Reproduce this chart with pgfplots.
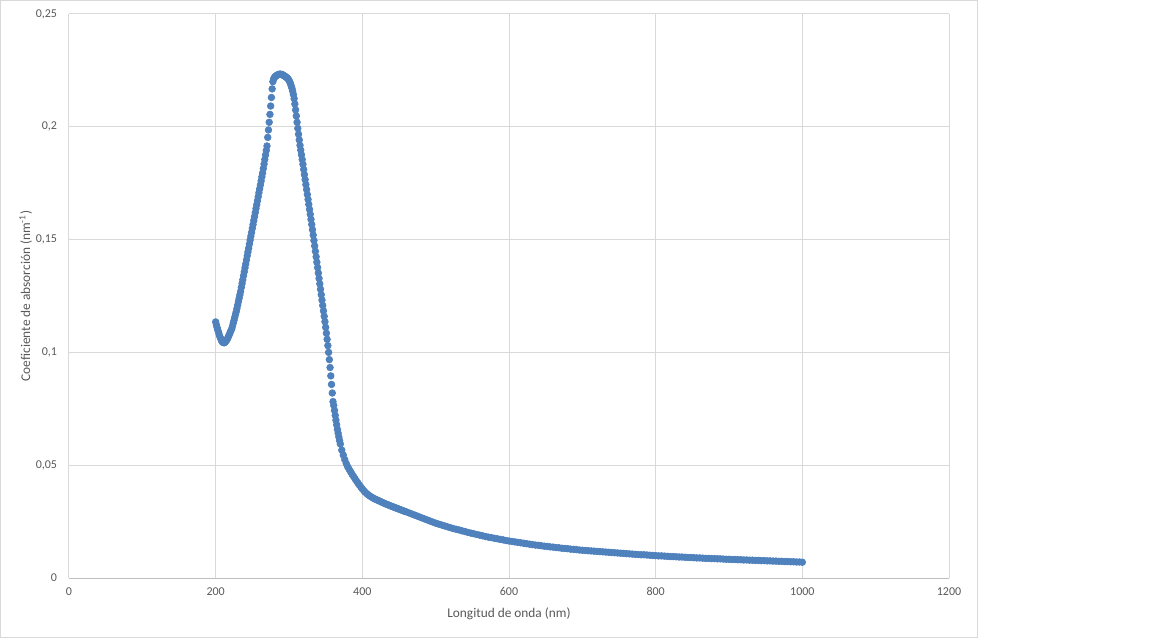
\documentclass[border=0pt]{standalone}
\usepackage{pgfplots}
\pgfplotsset{compat=1.18}
\usepackage{pgfplotstable}
\usepackage{fontspec}
\setmainfont{Carlito}
\definecolor{txt}{HTML}{595959}
\definecolor{gridc}{HTML}{D9D9D9}
\definecolor{axc}{HTML}{BFBFBF}
\definecolor{ser}{HTML}{4F81BD}
\pgfplotstableread{
x y
200 0.1135
201 0.1122
202 0.1110
203 0.1098
204 0.1088
205 0.1077
206 0.1068
207 0.1060
208 0.1052
209 0.1047
210 0.1044
211 0.1043
212 0.1043
213 0.1046
214 0.1050
215 0.1055
216 0.1060
217 0.1067
218 0.1075
219 0.1082
220 0.1090
221 0.1098
222 0.1105
223 0.1117
224 0.1130
225 0.1142
226 0.1155
227 0.1168
228 0.1180
229 0.1195
230 0.1210
231 0.1225
232 0.1240
233 0.1255
234 0.1270
235 0.1288
236 0.1305
237 0.1322
238 0.1340
239 0.1357
240 0.1375
241 0.1392
242 0.1410
243 0.1428
244 0.1445
245 0.1462
246 0.1480
247 0.1498
248 0.1515
249 0.1532
250 0.1550
251 0.1567
252 0.1585
253 0.1602
254 0.1620
255 0.1638
256 0.1655
257 0.1672
258 0.1690
259 0.1708
260 0.1725
261 0.1742
262 0.1760
263 0.1778
264 0.1795
265 0.1815
266 0.1835
267 0.1855
268 0.1875
269 0.1895
270 0.1915
271 0.1953
272 0.1986
273 0.2020
274 0.2055
275 0.2092
276 0.2130
277 0.2168
278 0.2200
279 0.2212
280 0.2218
281 0.2222
282 0.2225
283 0.2227
284 0.2229
285 0.2231
286 0.2232
287 0.2233
288 0.2233
289 0.2233
290 0.2232
291 0.2231
292 0.2229
293 0.2227
294 0.2225
295 0.2223
296 0.2220
297 0.2218
298 0.2215
299 0.2211
300 0.2206
301 0.2199
302 0.2191
303 0.2182
304 0.2171
305 0.2158
306 0.2143
307 0.2125
308 0.2101
309 0.2075
310 0.2048
311 0.2020
312 0.1993
313 0.1967
314 0.1942
315 0.1918
316 0.1897
317 0.1876
318 0.1855
319 0.1834
320 0.1811
321 0.1788
322 0.1766
323 0.1744
324 0.1722
325 0.1700
326 0.1678
327 0.1656
328 0.1634
329 0.1612
330 0.1590
331 0.1567
332 0.1544
333 0.1520
334 0.1496
335 0.1472
336 0.1448
337 0.1424
338 0.1400
339 0.1376
340 0.1352
341 0.1328
342 0.1304
343 0.1280
344 0.1256
345 0.1232
346 0.1208
347 0.1184
348 0.1160
349 0.1136
350 0.1111
351 0.1085
352 0.1058
353 0.1030
354 0.1000
355 0.0968
356 0.0933
357 0.0896
358 0.0858
359 0.0820
360 0.0782
361 0.0765
362 0.0743
363 0.0721
364 0.0700
365 0.0679
366 0.0659
367 0.0642
368 0.0625
369 0.0609
370 0.0594
372 0.0567
374 0.0545
376 0.0525
378 0.0508
380 0.0493
382 0.0482
384 0.0471
386 0.0460
388 0.0450
390 0.0440
392 0.0430
394 0.0421
396 0.0412
398 0.0403
400 0.0395
402 0.0387
404 0.0380
406 0.0374
408 0.0369
410 0.0364
412 0.0360
414 0.0356
416 0.0352
418 0.0349
420 0.0346
422 0.0343
424 0.0340
426 0.0337
428 0.0334
430 0.0331
432 0.0328
434 0.0326
436 0.0323
438 0.0320
440 0.0318
442 0.0315
444 0.0313
446 0.0310
448 0.0308
450 0.0305
452 0.0303
454 0.0300
456 0.0298
458 0.0295
460 0.0293
464 0.0288
468 0.0283
472 0.0278
476 0.0273
480 0.0268
484 0.0263
488 0.0258
492 0.0253
496 0.0248
500 0.0243
504 0.0239
508 0.0235
512 0.0231
516 0.0227
520 0.0223
524 0.0219
528 0.0216
532 0.0213
536 0.0209
540 0.0206
544 0.0202
548 0.0199
552 0.0196
556 0.0193
560 0.0190
564 0.0187
568 0.0184
572 0.0181
576 0.0179
580 0.0176
584 0.0174
588 0.0171
592 0.0169
596 0.0166
600 0.0164
604 0.0162
608 0.0160
612 0.0158
616 0.0156
620 0.0154
624 0.0152
628 0.0150
632 0.0148
636 0.0146
640 0.0145
644 0.0143
648 0.0141
652 0.0140
656 0.0138
660 0.0137
664 0.0135
668 0.0134
672 0.0132
676 0.0131
680 0.0130
684 0.0128
688 0.0127
692 0.0126
696 0.0124
700 0.0123
704 0.0122
708 0.0121
712 0.0120
716 0.0119
720 0.0118
724 0.0117
728 0.0116
732 0.0115
736 0.0114
740 0.0113
744 0.0112
748 0.0111
752 0.0110
756 0.0109
760 0.0108
764 0.0107
768 0.0106
772 0.0105
776 0.0104
780 0.0103
784 0.0103
788 0.0102
792 0.0101
796 0.0100
800 0.0099
804 0.0098
808 0.0098
812 0.0097
816 0.0096
820 0.0095
824 0.0095
828 0.0094
832 0.0093
836 0.0093
840 0.0092
844 0.0091
848 0.0091
852 0.0090
856 0.0089
860 0.0089
864 0.0088
868 0.0087
872 0.0087
876 0.0086
880 0.0086
884 0.0085
888 0.0085
892 0.0084
896 0.0083
900 0.0083
904 0.0082
908 0.0082
912 0.0081
916 0.0081
920 0.0080
924 0.0080
928 0.0079
932 0.0079
936 0.0078
940 0.0078
944 0.0077
948 0.0077
952 0.0076
956 0.0076
960 0.0075
964 0.0075
968 0.0074
972 0.0074
976 0.0073
980 0.0073
984 0.0072
988 0.0072
992 0.0071
996 0.0071
1000 0.0070
}\absdata
\begin{document}
\begin{tikzpicture}
\useasboundingbox (0,0) rectangle (864pt,479.25pt);
\fill[white] (0,0) rectangle (864pt,479.25pt);
\draw[gridc, line width=0.75pt] (0.375pt,1.125pt) rectangle (733.1pt,478.9pt);
\begin{axis}[
  at={(51.75pt,45.75pt)}, anchor=south west,
  scale only axis, width=660pt, height=423pt,
  xmin=0, xmax=1200, ymin=0, ymax=0.25,
  xtick={0,200,400,600,800,1000,1200},
  ytick={0,0.05,0.1,0.15,0.2,0.25},
  yticklabels={0,{0,05},{0,1},{0,15},{0,2},{0,25}},
  xticklabels={0,200,400,600,800,1000,1200},
  tick style={draw=none},
  grid=major,
  major grid style={gridc, line width=0.75pt},
  axis x line*=bottom, axis y line*=left,
  x axis line style={axc, line width=0.75pt},
  y axis line style={gridc, line width=0.75pt},
  ticklabel style={font=\fontsize{9}{11}\selectfont, text=txt},
  yticklabel style={anchor=east, inner sep=0pt, xshift=-8.8pt},
  xticklabel style={anchor=north, inner sep=0pt, yshift=-7pt},
  xlabel={Longitud de onda (nm)},
  ylabel={Coeficiente de absorción (nm\textsuperscript{-1})},
  label style={font=\fontsize{10}{12}\selectfont, text=txt},
  xlabel style={at={(axis description cs:0.5,-0.0643)}, anchor=center, inner sep=0pt},
  ylabel style={at={(axis description cs:-0.0492,0.5)}, anchor=center, inner sep=0pt},
  clip=false,
]
\addplot[only marks, mark=*, mark size=2.5pt, mark options={fill=ser, draw=ser, line width=0.5pt}] table[x=x,y=y] {\absdata};
\end{axis}
\end{tikzpicture}
\end{document}
